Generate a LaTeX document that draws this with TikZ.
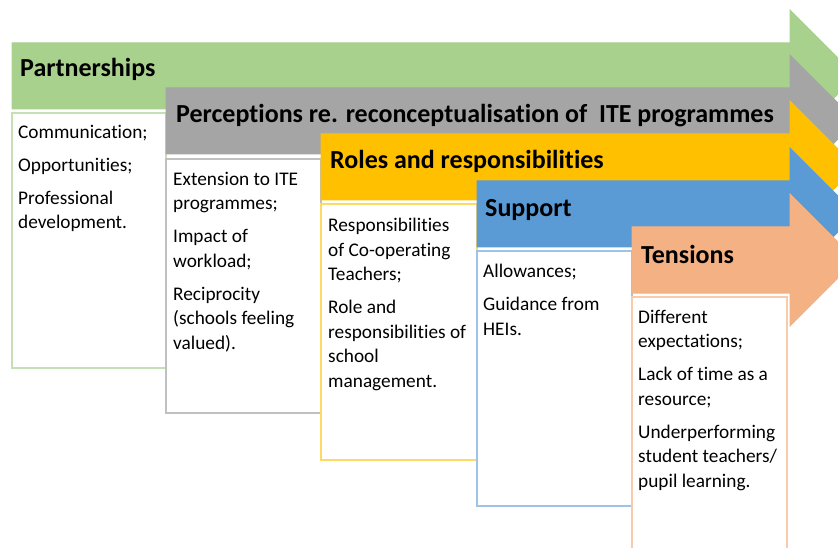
\documentclass[tikz,border=0pt]{standalone}
\usepackage{fontspec}
\setmainfont{Carlito}[Ligatures=NoCommon]

\definecolor{partgreen}{HTML}{A9D18E}
\definecolor{percgray}{HTML}{A5A5A5}
\definecolor{rolesyellow}{HTML}{FFC000}
\definecolor{suppblue}{HTML}{5B9BD5}
\definecolor{tenssalmon}{HTML}{F4B183}
\definecolor{partline}{HTML}{C5E0B4}
\definecolor{percline}{HTML}{C0C0C0}
\definecolor{rolesline}{HTML}{FFD966}
\definecolor{suppline}{HTML}{9DC3E6}
\definecolor{tensline}{HTML}{F8CBAD}

\begin{document}
\begin{tikzpicture}[x=1pt,y=-1pt,
  band/.style={draw=white,line width=1pt},
  listbox/.style={fill=white,line width=1.5pt},
  heading/.style={anchor=base west,inner sep=0pt,font=\fontsize{26}{30}\selectfont\bfseries},
  listing/.style={anchor=north west,inner sep=0pt,align=left,font=\fontsize{19.3}{24.5}\selectfont}]
  \useasboundingbox (0,0) rectangle (838,548);
  \clip (0,0) rectangle (838,548);

  %partnerships
  \fill[band,partgreen] (12,43) -- (790,43) -- (790,10) -- (856,76) -- (790,142) -- (790,109) -- (12,109) -- cycle;
  \node[heading] (parthead) at (20,77) {Partnerships};
  \draw[listbox,draw=partline] (12,113) rectangle (166,368);
  \node[listing] (partlist) at (18,125) {Communication;\\[8.5pt]Opportunities;\\[8.5pt]Professional\\development.};

  %perceptions
  \fill[band,percgray] (166,88) -- (790,88) -- (790,55) -- (856,121) -- (790,187) -- (790,154) -- (166,154) -- cycle;
  \node[heading] (perchead) at (176,123) {Perceptions re. reconceptualisation of\ \ ITE programmes};
  \draw[listbox,draw=percline] (166,159) rectangle (321,413);
  \node[listing] (perclist) at (173,172) {Extension to ITE\\programmes;\\[8.5pt]Impact of\\workload;\\[8.5pt]Reciprocity\\(schools feeling\\valued).};

  %roles
  \fill[band,rolesyellow] (321,134) -- (790,134) -- (790,101) -- (856,167) -- (790,233) -- (790,200) -- (321,200) -- cycle;
  \node[heading] (roleshead) at (330,169) {Roles and responsibilities};
  \draw[listbox,draw=rolesline] (321,204) rectangle (477,460);
  \node[listing] (roleslist) at (328,218) {Responsibilities\\of Co-operating\\Teachers;\\[8.5pt]Role and\\responsibilities of\\school\\management.};

  %support
  \fill[band,suppblue] (477,181) -- (790,181) -- (790,148) -- (856,214) -- (790,280) -- (790,247) -- (477,247) -- cycle;
  \node[heading] (supphead) at (485,217) {Support};
  \draw[listbox,draw=suppline] (477,251) rectangle (632,506);
  \node[listing] (supplist) at (483,264) {Allowances;\\[8.5pt]Guidance from\\HEIs.};

  %tensions
  \fill[band,tenssalmon] (632,227) -- (790,227) -- (790,194) -- (856,260) -- (790,326) -- (790,293) -- (632,293) -- cycle;
  \node[heading] (tenshead) at (641,263) {Tensions};
  \draw[listbox,draw=tensline] (632,297) rectangle (787,560);
  \node[listing] (tenslist) at (638,310) {Different\\expectations;\\[8.5pt]Lack of time as a\\resource;\\[8.5pt]Underperforming\\student teachers/\\pupil learning.};
\end{tikzpicture}
\end{document}
